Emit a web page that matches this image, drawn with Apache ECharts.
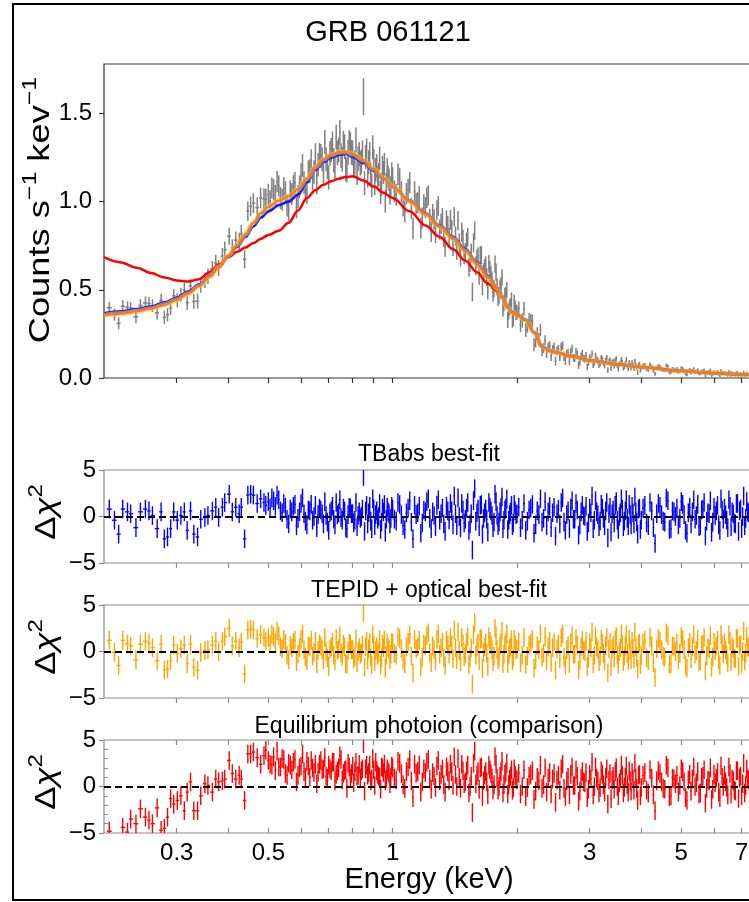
<!DOCTYPE html>
<html>
<head>
<meta charset="utf-8">
<script src="https://cdn.jsdelivr.net/npm/echarts@6/dist/echarts.min.js"></script>
<style>
html, body { margin: 0; padding: 0; background: #fff; }
#chart { width: 749px; height: 902px; }
</style>
</head>
<body>
<div id="chart"></div>
<script>
// spectral bins (keV); second block = the bins in between
var energy = [
  0.206,0.212,0.217,0.222,0.228,0.232,0.239,0.245,0.252,0.257,0.262,0.269,0.275,0.280,0.285,0.290,0.295,0.301,0.307,0.313,0.318,0.324,0.330,0.337,0.343,0.351,0.357,0.366,0.373,0.379,0.387,0.392,0.402,0.409,0.417,0.425,0.430,0.438,0.446,0.453,0.460,0.470,0.479,0.488,0.493,
  0.50,0.51,0.52,0.53,0.54,0.55,0.56,0.57,0.58,0.59,0.60,0.61,0.62,0.63,0.64,0.65,0.66,0.67,0.68,0.69,0.70,0.71,0.72,0.73,0.74,0.75,0.76,0.77,0.78,0.79,0.80,0.81,0.82,0.83,0.84,0.85,0.86,0.87,0.88,0.89,0.90,0.91,0.92,0.93,0.94,0.95,0.96,0.97,0.98,0.99,
  1.00,1.02,1.04,1.06,1.08,1.10,1.12,1.14,1.16,1.18,1.20,1.22,1.24,1.26,1.28,1.30,1.32,1.34,1.36,1.38,1.40,1.42,1.44,1.46,1.48,1.50,1.52,1.54,1.56,1.58,1.60,1.62,1.64,1.66,1.68,1.70,1.72,1.74,1.76,1.78,1.80,1.82,1.84,1.86,1.88,1.90,1.92,1.94,1.96,1.98,
  2.00,2.04,2.08,2.12,2.16,2.20,2.24,2.28,2.32,2.36,2.40,2.44,2.48,2.52,2.56,2.60,2.64,2.68,2.72,2.76,2.80,2.84,2.88,2.92,2.96,3.00,3.04,3.08,3.12,3.16,3.20,3.24,3.28,3.32,3.36,3.40,3.44,3.48,3.52,3.56,3.60,3.64,3.68,3.72,3.76,3.80,3.84,3.88,3.92,3.96,
  4.00,4.08,4.16,4.24,4.32,4.40,4.48,4.56,4.64,4.72,4.80,4.88,4.96,5.04,5.12,5.20,5.28,5.36,5.44,5.52,5.60,5.68,5.76,5.84,5.92,6.00,6.08,6.16,6.24,6.32,6.40,6.48,6.56,6.64,6.72,6.80,6.88,6.96,7.04,7.12,7.20,7.28,7.36,7.44,7.52,
  0.505,0.515,0.525,0.535,0.545,0.555,0.565,0.575,0.585,0.595,0.605,0.615,0.625,0.635,0.645,0.655,0.665,0.675,0.685,0.695,0.705,0.715,0.725,0.735,0.745,0.755,0.765,0.775,0.785,0.795,0.805,0.815,0.825,0.835,0.845,0.855,0.865,0.875,0.885,0.895,0.905,0.915,0.925,0.935,0.945,0.955,0.965,0.975,0.985,0.995,
  1.01,1.03,1.05,1.07,1.09,1.11,1.13,1.15,1.17,1.19,1.21,1.23,1.25,1.27,1.29,1.31,1.33,1.35,1.37,1.39,1.41,1.43,1.45,1.47,1.49,1.51,1.53,1.55,1.57,1.59,1.61,1.63,1.65,1.67,1.69,1.71,1.73,1.75,1.77,1.79,1.81,1.83,1.85,1.87,1.89,1.91,1.93,1.95,1.97,1.99,
  2.02,2.06,2.10,2.14,2.18,2.22,2.26,2.30,2.34,2.38,2.42,2.46,2.50,2.54,2.58,2.62,2.66,2.70,2.74,2.78,2.82,2.86,2.90,2.94,2.98,3.02,3.06,3.10,3.14,3.18,3.22,3.26,3.30,3.34,3.38,3.42,3.46,3.50,3.54,3.58,3.62,3.66,3.70,3.74,3.78,3.82,3.86,3.90,3.94,3.98,
  4.04,4.12,4.20,4.28,4.36,4.44,4.52,4.60,4.68,4.76,4.84,4.92,5.00,5.08,5.16,5.24,5.32,5.40,5.48,5.56,5.64,5.72,5.80,5.88,5.96,6.04,6.12,6.20,6.28,6.36,6.44,6.52,6.60,6.68,6.76,6.84,6.92,7.00,7.08,7.16,7.24,7.32,7.40,7.48
];
var counts = [
  0.398,0.359,0.310,0.407,0.400,0.396,0.347,0.411,0.426,0.422,0.410,0.369,0.440,0.344,0.358,0.396,0.466,0.441,0.471,0.498,0.427,0.522,0.434,0.436,0.526,0.554,0.577,0.619,0.653,0.624,0.691,0.726,0.804,0.738,0.782,0.773,0.818,0.673,0.945,0.973,0.991,0.966,1.020,1.015,1.012,
  1.041,1.077,1.034,1.088,1.011,1.053,0.952,1.043,1.105,1.028,1.154,1.107,1.051,1.172,1.131,1.264,1.209,1.259,1.169,1.240,1.137,1.292,1.234,1.365,1.293,1.260,1.331,1.186,1.279,1.323,1.276,1.220,1.164,1.269,1.227,1.595,1.253,1.146,1.270,1.093,1.231,1.180,1.136,1.246,1.097,1.165,1.002,1.182,1.124,1.080,
  1.133,1.039,1.131,0.977,1.045,1.107,0.847,0.989,1.029,0.907,0.965,1.035,0.829,0.899,0.951,0.841,0.906,0.743,0.862,0.897,0.746,0.804,0.892,0.686,0.786,0.712,0.798,0.656,0.487,0.835,0.677,0.580,0.697,0.599,0.639,0.495,0.615,0.555,0.505,0.600,0.455,0.510,0.570,0.424,0.467,0.330,0.400,0.440,0.337,0.396,
  0.372,0.300,0.392,0.296,0.324,0.188,0.252,0.272,0.170,0.140,0.183,0.161,0.095,0.163,0.177,0.120,0.136,0.095,0.166,0.113,0.135,0.091,0.140,0.107,0.063,0.116,0.138,0.089,0.103,0.073,0.114,0.085,0.099,0.045,0.102,0.087,0.068,0.108,0.052,0.083,0.089,0.064,0.104,0.053,0.073,0.088,0.053,0.074,0.030,0.079,
  0.058,0.073,0.047,0.064,0.024,0.068,0.053,0.044,0.065,0.033,0.049,0.052,0.039,0.052,0.025,0.041,0.029,0.052,0.036,0.024,0.039,0.045,0.027,0.033,0.015,0.036,0.032,0.020,0.041,0.023,0.027,0.015,0.032,0.027,0.017,0.032,0.010,0.026,0.020,0.012,0.030,0.021,0.014,0.025,0.016,
  1.005,1.066,1.114,1.020,1.077,0.978,1.057,1.089,0.969,1.084,1.205,1.066,1.168,1.231,1.168,1.108,1.264,1.238,1.338,1.197,1.274,1.328,1.195,1.277,1.392,1.240,1.311,1.178,1.334,1.279,1.203,1.350,1.244,1.216,1.278,1.106,1.289,1.224,1.154,1.308,1.104,1.202,1.153,1.052,1.194,1.211,1.098,1.140,1.048,1.159,
  1.058,1.154,1.057,0.944,1.068,0.962,1.056,0.994,0.850,0.983,1.022,0.902,0.929,0.822,0.975,0.875,0.799,0.894,0.797,0.840,0.914,0.724,0.765,0.827,0.699,0.771,0.627,0.708,0.767,0.636,0.689,0.694,0.520,0.622,0.572,0.647,0.587,0.482,0.645,0.517,0.466,0.523,0.394,0.466,0.498,0.377,0.408,0.330,0.428,0.372,
  0.394,0.326,0.272,0.329,0.323,0.211,0.219,0.159,0.215,0.174,0.122,0.175,0.153,0.121,0.185,0.097,0.143,0.146,0.115,0.149,0.073,0.122,0.110,0.127,0.088,0.107,0.074,0.126,0.098,0.084,0.105,0.072,0.113,0.090,0.056,0.093,0.099,0.072,0.077,0.104,0.058,0.082,0.068,0.088,0.056,0.073,0.095,0.057,0.074,0.044,
  0.072,0.051,0.076,0.042,0.057,0.064,0.045,0.071,0.032,0.052,0.044,0.033,0.056,0.041,0.020,0.047,0.041,0.032,0.046,0.024,0.040,0.013,0.034,0.045,0.023,0.028,0.037,0.014,0.031,0.032,0.021,0.038,0.015,0.025,0.016,0.031,0.025,0.011,0.035,0.018,0.022,0.007,0.024,0.014
];
var countsErr = [
  .033,.034,.034,.035,.035,.035,.036,.036,.036,.037,.037,.037,.038,.038,.038,.039,.039,.040,.040,.041,.041,.042,.042,.043,.043,.044,.044,.045,.045,.046,.046,.047,.048,.048,.049,.050,.050,.051,.055,.056,.057,.058,.059,.060,.060,
  .060,.060,.061,.061,.062,.062,.062,.063,.063,.064,.064,.065,.065,.066,.066,.067,.067,.068,.068,.068,.069,.069,.069,.070,.070,.070,.070,.070,.070,.070,.070,.070,.070,.069,.069,.105,.069,.068,.068,.068,.067,.067,.066,.066,.066,.065,.065,.064,.064,.063,
  .062,.062,.061,.061,.061,.060,.060,.060,.059,.059,.059,.058,.058,.058,.057,.057,.057,.056,.056,.056,.055,.055,.055,.054,.054,.054,.053,.053,.053,.052,.052,.052,.051,.051,.051,.050,.050,.050,.049,.049,.048,.048,.047,.047,.046,.046,.045,.045,.045,.044,
  .040,.040,.039,.039,.038,.037,.036,.035,.028,.027,.026,.026,.025,.025,.024,.024,.023,.023,.022,.022,.021,.021,.020,.020,.019,.019,.018,.018,.018,.017,.017,.017,.017,.016,.016,.016,.016,.015,.015,.015,.015,.015,.014,.014,.014,.014,.014,.013,.013,.013,
  .012,.012,.012,.012,.011,.011,.011,.011,.011,.011,.010,.010,.010,.010,.010,.010,.010,.009,.009,.009,.009,.009,.009,.009,.009,.008,.008,.008,.008,.008,.008,.008,.008,.008,.007,.007,.007,.007,.007,.007,.007,.007,.007,.007,.007,
  .060,.061,.061,.062,.062,.062,.063,.063,.064,.064,.065,.065,.066,.066,.067,.067,.068,.068,.068,.069,.069,.069,.070,.070,.070,.070,.070,.070,.070,.070,.070,.070,.070,.069,.069,.069,.069,.068,.068,.068,.067,.067,.066,.066,.066,.065,.065,.064,.064,.063,
  .062,.062,.061,.061,.061,.060,.060,.060,.059,.059,.059,.058,.058,.058,.057,.057,.057,.056,.056,.056,.055,.055,.055,.054,.054,.054,.053,.053,.053,.052,.052,.052,.051,.051,.051,.050,.050,.050,.049,.049,.048,.048,.047,.047,.046,.046,.045,.045,.045,.044,
  .040,.040,.039,.039,.038,.037,.036,.035,.028,.027,.026,.026,.025,.025,.024,.024,.023,.023,.022,.022,.021,.021,.020,.020,.019,.019,.018,.018,.018,.017,.017,.017,.017,.016,.016,.016,.016,.015,.015,.015,.015,.015,.014,.014,.014,.014,.014,.013,.013,.013,
  .012,.012,.012,.012,.011,.011,.011,.011,.011,.011,.010,.010,.010,.010,.010,.010,.010,.009,.009,.009,.009,.009,.009,.009,.009,.008,.008,.008,.008,.008,.008,.008,.008,.008,.007,.007,.007,.007,.007,.007,.007,.007,.007,.007
];
// delta chi residuals, one array per fit (same bin order as energy)
var resTbabs = [
  0.8,-0.4,-1.9,0.8,0.5,0.3,-1.2,0.5,0.8,0.6,0.1,-1.3,0.5,-2.4,-2.2,-1.3,0.5,-0.4,0.1,0.5,-1.5,0.6,-1.9,-2.2,-0.3,-0.1,0.1,0.6,1.0,-0.1,1.0,1.5,2.4,0.5,1.0,0.3,1.0,-2.4,2.3,2.4,2.3,1.4,1.9,1.5,1.2,
  1.6,2.0,1.1,1.8,0.4,1.0,-0.8,0.5,1.3,-0.2,1.4,0.3,-0.9,0.6,-0.4,1.2,0.2,0.7,-0.8,0.1,-1.5,0.6,-0.3,1.5,0.4,-0.1,0.9,-1.2,0.2,0.9,0.3,-0.4,-1.1,0.5,0.0,4.3,0.6,-0.8,1.1,-1.3,0.8,0.2,-0.3,1.4,-0.6,0.5,-1.7,1.0,0.3,-0.2,
  0.8,-0.5,1.3,-1.0,0.4,1.7,-2.4,0.2,1.1,-0.7,0.5,1.9,-1.3,0.1,1.2,-0.4,0.9,-1.6,0.6,1.4,-0.9,0.3,2.0,-1.2,0.7,-0.3,1.5,-0.8,-3.6,3.0,0.4,-1.1,1.3,-0.2,0.8,-1.7,1.0,0.1,-0.6,1.6,-1.0,0.5,2.1,-0.4,0.9,-1.4,0.2,1.2,-0.7,0.6,
  0.3,-1.2,1.4,-0.5,0.9,-1.8,0.6,1.9,-0.2,-1.0,1.1,0.4,-2.1,0.8,1.5,-0.6,0.2,-1.3,1.7,-0.3,0.7,-0.9,1.2,0.0,-1.6,0.9,2.2,-0.4,0.5,-1.1,1.3,-0.2,0.6,-2.3,1.0,0.3,-0.7,1.6,-1.4,0.4,0.8,-0.5,1.8,-1.0,0.2,1.1,-0.8,0.5,-1.9,0.9,
  -0.4,1.2,-1.0,0.6,-2.9,1.4,0.2,-0.6,1.7,-1.3,0.5,0.9,-0.2,1.3,-1.5,0.4,-0.8,1.8,0.1,-1.1,0.7,1.5,-0.5,0.3,-1.7,1.0,0.6,-0.9,1.9,-0.3,0.2,-1.2,1.1,0.5,-0.7,1.4,-1.6,0.8,0.0,-1.0,1.6,0.4,-0.6,1.2,-0.2,
  0.9,1.7,2.3,0.6,1.4,-0.3,0.8,1.1,-1.0,0.5,2.0,-0.5,0.7,1.3,0.0,-1.2,0.9,0.3,1.6,-0.6,0.4,1.1,-0.9,0.2,1.8,-0.4,0.6,-1.3,1.0,0.3,-0.7,1.5,0.1,-0.2,0.8,-1.6,1.2,0.4,-0.5,1.9,-1.0,0.6,0.0,-1.4,0.9,1.3,-0.3,0.5,-0.8,1.1,
  -0.3,1.5,0.2,-1.4,0.9,-0.6,1.2,0.4,-1.8,0.7,1.6,-0.2,0.5,-1.1,1.8,0.3,-0.8,1.1,-0.4,0.6,2.2,-1.0,0.0,1.4,-0.7,0.9,-1.5,0.3,1.7,-0.5,0.8,1.2,-1.9,0.4,-0.3,1.5,0.6,-1.2,2.4,0.1,-0.6,1.0,-1.3,0.7,1.9,-0.4,0.5,-1.0,1.3,0.2,
  1.0,-0.4,-1.5,0.7,1.3,-0.9,0.2,-0.6,1.6,0.5,-1.2,1.0,0.3,-0.8,2.0,-1.5,0.6,0.9,-0.3,1.4,-2.0,0.5,0.1,1.1,-0.7,0.4,-1.3,1.7,0.2,-0.5,0.9,-1.0,1.5,0.3,-1.7,0.7,1.2,-0.4,0.0,1.9,-1.1,0.6,-0.2,1.3,-0.9,0.4,2.1,-0.6,0.8,-1.4,
  0.9,-0.7,1.5,-1.2,0.3,1.1,-0.5,2.0,-1.4,0.6,0.0,-0.9,1.6,0.2,-1.8,1.0,0.5,-0.3,1.3,-1.0,0.8,-2.1,0.4,1.7,-0.6,0.1,1.2,-1.5,0.7,0.9,-0.4,1.8,-1.1,0.3,-0.8,1.4,0.6,-1.3,2.2,-0.2,0.5,-1.6,1.0,-0.5
];
var resTepid = [
  1.2,-0.1,-1.5,1.2,0.8,0.6,-0.9,0.8,1.1,0.9,0.4,-1.0,0.8,-2.0,-1.9,-1.0,0.7,-0.2,0.3,0.7,-1.3,0.8,-1.7,-2.0,-0.1,0.1,0.2,0.7,1.1,0.0,1.1,1.6,2.5,0.6,1.1,0.4,1.0,-2.4,2.3,2.4,2.3,1.4,1.8,1.5,1.1,
  1.5,1.9,1.0,1.7,0.3,0.9,-0.9,0.4,1.2,-0.3,1.3,0.2,-1.0,0.5,-0.5,1.1,0.1,0.6,-0.9,0.0,-1.6,0.5,-0.4,1.4,0.3,-0.2,0.8,-1.3,0.1,0.8,0.2,-0.5,-1.2,0.4,-0.1,4.2,0.5,-0.9,1.0,-1.4,0.7,0.1,-0.4,1.3,-0.7,0.4,-1.8,0.9,0.2,-0.3,
  0.9,-0.4,1.4,-0.9,0.5,1.8,-2.3,0.3,1.2,-0.6,0.6,2.0,-1.2,0.2,1.3,-0.3,1.0,-1.5,0.7,1.5,-0.8,0.4,2.1,-1.1,0.8,-0.2,1.6,-0.7,-3.5,3.1,0.5,-1.0,1.4,-0.1,0.9,-1.6,1.1,0.2,-0.5,1.7,-0.9,0.6,2.2,-0.3,1.0,-1.3,0.3,1.3,-0.6,0.7,
  0.3,-1.2,1.5,-0.5,0.9,-1.8,0.6,1.9,-0.2,-1.0,1.1,0.4,-2.0,0.8,1.5,-0.6,0.2,-1.3,1.7,-0.3,0.7,-0.9,1.2,0.0,-1.6,0.9,2.1,-0.4,0.5,-1.1,1.3,-0.2,0.6,-2.3,1.0,0.3,-0.7,1.6,-1.4,0.4,0.8,-0.5,1.8,-1.0,0.2,1.1,-0.8,0.5,-1.9,0.9,
  -0.4,1.2,-1.0,0.6,-2.8,1.4,0.2,-0.6,1.7,-1.3,0.5,0.9,-0.2,1.3,-1.5,0.4,-0.8,1.8,0.1,-1.1,0.7,1.5,-0.5,0.3,-1.7,1.0,0.6,-0.9,1.8,-0.3,0.2,-1.2,1.1,0.5,-0.7,1.4,-1.6,0.8,0.0,-1.0,1.6,0.4,-0.6,1.2,-0.2,
  0.8,1.6,2.2,0.5,1.3,-0.4,0.7,1.0,-1.1,0.4,1.9,-0.6,0.6,1.2,-0.1,-1.3,0.8,0.2,1.5,-0.7,0.3,1.0,-1.0,0.1,1.7,-0.5,0.5,-1.4,0.9,0.2,-0.8,1.4,0.0,-0.3,0.7,-1.7,1.1,0.3,-0.6,1.8,-1.1,0.5,-0.1,-1.5,0.8,1.2,-0.4,0.4,-0.9,1.0,
  -0.2,1.6,0.3,-1.3,1.0,-0.5,1.3,0.5,-1.7,0.8,1.7,-0.1,0.6,-1.0,1.9,0.4,-0.7,1.2,-0.3,0.7,2.3,-0.9,0.1,1.5,-0.6,1.0,-1.4,0.4,1.8,-0.4,0.9,1.3,-1.8,0.5,-0.2,1.6,0.7,-1.1,2.5,0.2,-0.6,1.0,-1.3,0.7,1.9,-0.4,0.5,-1.0,1.3,0.2,
  1.0,-0.4,-1.4,0.7,1.3,-0.9,0.2,-0.6,1.6,0.5,-1.2,1.0,0.3,-0.8,1.9,-1.5,0.6,0.9,-0.3,1.4,-2.0,0.5,0.1,1.1,-0.7,0.4,-1.3,1.7,0.2,-0.5,0.9,-1.0,1.5,0.3,-1.6,0.7,1.2,-0.4,0.0,1.9,-1.1,0.6,-0.2,1.3,-0.9,0.4,2.1,-0.6,0.8,-1.4,
  0.9,-0.7,1.5,-1.2,0.3,1.1,-0.5,2.0,-1.4,0.6,0.0,-0.9,1.6,0.2,-1.8,1.0,0.5,-0.3,1.3,-1.0,0.8,-2.1,0.4,1.7,-0.6,0.1,1.2,-1.5,0.7,0.9,-0.4,1.8,-1.1,0.3,-0.8,1.4,0.6,-1.3,2.2,-0.2,0.5,-1.6,1.0,-0.5
];
var resEquil = [
  -4.8,-6.4,-6.1,-4.4,-4.9,-3.5,-4.0,-2.4,-3.3,-3.6,-4.0,-2.3,-4.7,-4.5,-3.3,-1.3,-1.9,-1.5,-1.0,-2.6,-0.6,0.5,-2.6,-2.6,-1.0,0.3,0.1,-0.6,0.8,0.5,0.6,0.8,2.8,1.4,0.8,1.2,0.8,-1.5,3.5,3.5,3.7,3.1,2.4,3.3,3.9,
  2.8,2.3,1.7,2.1,3.0,1.4,2.5,1.8,2.9,1.2,2.2,1.6,2.7,1.0,2.0,2.4,1.5,2.8,1.9,1.1,2.3,1.7,2.6,1.3,2.0,2.9,1.4,1.8,2.5,0.9,2.2,1.6,1.1,2.4,1.7,4.6,1.9,1.2,2.3,0.8,1.8,2.6,1.3,1.0,2.1,1.5,0.6,1.9,1.4,1.0,
  2.0,0.7,2.5,0.2,1.6,2.9,-1.2,1.4,2.3,0.5,1.5,2.9,-0.3,1.1,2.2,0.6,1.9,-0.6,1.6,2.4,0.1,1.3,3.0,-0.2,1.7,0.5,2.3,0.0,-2.8,3.8,1.2,-0.3,2.1,0.6,1.6,-0.9,1.8,0.9,0.2,2.4,-0.4,1.1,2.7,0.2,1.5,-0.8,0.8,1.8,-0.1,1.2,
  0.7,-0.8,1.8,-0.1,1.3,-1.4,1.0,2.3,0.2,-0.6,1.5,0.8,-1.7,1.2,1.9,-0.2,0.6,-0.9,2.1,0.1,1.1,-0.5,1.6,0.4,-1.2,1.3,2.6,0.0,0.9,-0.7,1.7,0.2,1.0,-1.9,1.4,0.7,-0.3,2.0,-1.0,0.8,1.2,-0.1,2.2,-0.6,0.6,1.5,-0.4,0.9,-1.5,1.3,
  -0.1,1.5,-0.7,0.9,-2.6,1.7,0.5,-0.3,2.0,-1.0,0.8,1.2,0.1,1.6,-1.2,0.7,-0.5,2.1,0.4,-0.8,1.0,1.8,-0.2,0.6,-1.4,1.3,0.9,-0.6,2.2,0.0,0.5,-0.9,1.4,0.8,-0.4,1.7,-1.3,1.1,0.3,-0.7,1.9,0.7,-0.3,1.5,0.1,
  2.4,3.2,3.8,2.1,2.9,1.2,2.3,2.6,0.5,2.0,3.5,1.0,2.2,2.8,1.5,0.3,2.4,1.8,3.1,0.9,1.9,2.6,0.6,1.7,3.3,0.7,1.7,-0.2,2.1,1.4,0.4,2.6,1.2,0.9,1.9,-0.5,2.3,1.5,0.6,3.0,0.1,1.7,1.1,-0.3,2.0,2.4,0.8,1.6,0.3,2.2,
  0.9,2.7,1.4,-0.2,2.1,0.6,2.4,1.6,-0.6,1.9,2.6,0.8,1.5,-0.1,2.8,1.3,0.2,2.1,0.6,1.6,3.2,0.0,1.0,2.4,0.3,1.7,-0.7,1.1,2.5,0.3,1.6,2.0,-1.1,1.2,0.5,2.3,1.4,-0.4,3.2,0.9,0.0,1.6,-0.7,1.3,2.5,0.2,1.1,-0.4,1.9,0.8,
  1.4,0.0,-1.1,1.1,1.7,-0.5,0.6,-0.2,2.0,0.9,-0.8,1.4,0.7,-0.4,2.4,-1.1,1.0,1.3,0.1,1.8,-1.6,0.9,0.5,1.5,-0.3,0.8,-0.9,2.1,0.6,-0.1,1.3,-0.6,1.9,0.7,-1.3,1.1,1.6,0.0,0.4,2.3,-0.7,1.0,0.2,1.7,-0.5,0.8,2.5,-0.2,1.2,-1.0,
  1.2,-0.4,1.8,-0.9,0.6,1.4,-0.2,2.3,-1.1,0.9,0.3,-0.6,1.9,0.5,-1.5,1.3,0.8,0.0,1.6,-0.7,1.1,-1.8,0.7,2.0,-0.3,0.4,1.5,-1.2,1.0,1.2,-0.1,2.1,-0.8,0.6,-0.5,1.7,0.9,-1.0,2.5,0.1,0.8,-1.3,1.3,-0.2
];

// model curves
var modelEnergy = [0.2,0.22,0.24,0.26,0.28,0.30,0.32,0.34,0.36,0.38,0.40,0.42,0.44,0.46,0.48,0.50,0.53,0.56,0.59,0.62,0.65,0.68,0.71,0.74,0.77,0.80,0.85,0.90,0.95,1.0,1.1,1.2,1.3,1.4,1.5,1.6,1.7,1.8,1.85,1.9,1.95,2.0,2.1,2.2,2.3,2.4,2.5,2.7,3.0,3.5,4.0,5.0,6.0,7.0,7.5];
var modelTbabs = [0.367,0.378,0.39,0.405,0.428,0.455,0.49,0.53,0.58,0.63,0.69,0.745,0.80,0.86,0.91,0.945,0.98,1.0,1.04,1.11,1.18,1.225,1.25,1.265,1.27,1.255,1.22,1.175,1.13,1.085,1.005,0.935,0.865,0.80,0.73,0.655,0.58,0.505,0.455,0.40,0.375,0.36,0.33,0.26,0.18,0.155,0.145,0.125,0.10,0.078,0.062,0.04,0.028,0.02,0.017];
var modelTepid = [0.355,0.365,0.378,0.393,0.415,0.443,0.478,0.52,0.573,0.63,0.695,0.755,0.815,0.88,0.935,0.97,1.005,1.03,1.07,1.13,1.195,1.24,1.265,1.28,1.282,1.27,1.235,1.185,1.135,1.085,1.0,0.928,0.857,0.79,0.72,0.645,0.57,0.5,0.45,0.398,0.373,0.358,0.328,0.258,0.178,0.154,0.144,0.124,0.10,0.078,0.062,0.04,0.028,0.02,0.017];
var modelEquil = [0.685,0.655,0.625,0.595,0.57,0.553,0.547,0.56,0.60,0.645,0.685,0.715,0.74,0.765,0.79,0.81,0.835,0.88,0.95,1.02,1.065,1.095,1.115,1.13,1.14,1.143,1.12,1.085,1.05,1.02,0.945,0.865,0.80,0.73,0.665,0.60,0.535,0.49,0.448,0.397,0.372,0.357,0.327,0.257,0.177,0.153,0.143,0.123,0.099,0.077,0.061,0.039,0.027,0.019,0.016];

// ticks
var tickEnergies = [0.3,0.4,0.5,0.6,0.7,0.8,0.9,1,2,3,4,5,6,7];
var labelEnergies = [0.3,0.5,1,3,5,7];
var countTicks = [0, 0.5, 1, 1.5];
var resTicks = [-5, 0, 5];
var resMinorTicks = [-4, -3, -2, -1, 1, 2, 3, 4];

var lg = Math.log10;
var xMin = lg(0.2), xMax = lg(7.5);
var font = 'Liberation Sans';
var tickPos = tickEnergies.map(lg);
var labelPos = labelEnergies.map(lg);

// sort the bins by energy, bin edges half way (in log) between neighbours
var order = energy.map(function (e, i) { return i; }).sort(function (a, b) { return energy[a] - energy[b]; });
var logE = order.map(function (i) { return lg(energy[i]); });
function binLo(k) { return k > 0 ? (logE[k - 1] + logE[k]) / 2 : logE[0] - (logE[1] - logE[0]) / 2; }
function binHi(k) { var n = logE.length; return k < n - 1 ? (logE[k] + logE[k + 1]) / 2 : logE[n - 1] + (logE[n - 1] - logE[n - 2]) / 2; }

function barData(vals, errs) {
    var out = [];
    order.forEach(function (i, k) {
        if (vals[i] == null) return;
        out.push([logE[k], vals[i], errs ? errs[i] : 1, binLo(k), binHi(k)]);
    });
    return out;
}

function barRender(color, width) {
    return function (params, api) {
        var x = api.value(0), y = api.value(1), e = api.value(2);
        var a = api.coord([x, y - e]), b = api.coord([x, y + e]);
        var l = api.coord([api.value(3), y]), r = api.coord([api.value(4), y]);
        var st = { stroke: color, lineWidth: width };
        return {
            type: 'group',
            children: [
                { type: 'line', shape: { x1: a[0], y1: a[1], x2: b[0], y2: b[1] }, style: st },
                { type: 'line', shape: { x1: l[0], y1: l[1], x2: r[0], y2: r[1] }, style: st }
            ]
        };
    };
}

function modelLine(vals, color, width, z) {
    return {
        type: 'line', xAxisIndex: 0, yAxisIndex: 0,
        data: modelEnergy.map(function (e, i) { return [lg(e), vals[i]]; }),
        smooth: 0.35, smoothMonotone: 'x', showSymbol: false, symbol: 'none',
        lineStyle: { color: color, width: width }, z: z, silent: true
    };
}

function resSeries(idx, vals, color) {
    return {
        type: 'custom', xAxisIndex: idx, yAxisIndex: idx, clip: true,
        renderItem: barRender(color, 1.4),
        encode: { x: 0, y: 1 },
        data: barData(vals, null),
        z: 2,
        markLine: {
            silent: true, symbol: ['none', 'none'], animation: false,
            label: { show: false },
            lineStyle: { type: [7, 4], color: '#000', width: 2 },
            data: [{ yAxis: 0 }]
        }
    };
}

var grids = [
    { left: 104, top: 64, width: 650, height: 314, borderColor: '#333' },
    { left: 104, top: 470, width: 650, height: 93, borderColor: '#8a8a8a' },
    { left: 104, top: 605, width: 650, height: 93, borderColor: '#8a8a8a' },
    { left: 104, top: 740, width: 650, height: 93, borderColor: '#8a8a8a' }
].map(function (g) {
    g.show = true; g.borderWidth = 1.2; g.backgroundColor = 'transparent';
    g.containLabel = false; g.outerBoundsMode = 'none';
    return g;
});

function xAxisFor(i, position, inside, withLabels) {
    return {
        type: 'value', gridIndex: i, min: xMin, max: xMax, position: position,
        axisLine: { show: false, onZero: false }, splitLine: { show: false },
        axisTick: { show: true, customValues: tickPos, length: 5, inside: inside,
            lineStyle: { color: i === 0 ? '#333' : '#8a8a8a', width: 1.2 } },
        axisLabel: withLabels ? {
            show: true, customValues: labelPos, margin: 8,
            fontSize: 24, color: '#000', fontFamily: font,
            formatter: function (v) { return String(+Math.pow(10, v).toPrecision(2)); }
        } : { show: false },
        name: withLabels ? 'Energy (keV)' : '',
        nameLocation: 'middle', nameGap: 44,
        nameTextStyle: { fontSize: 29, color: '#000', fontFamily: font, verticalAlign: 'middle' }
    };
}

function resYAxis(i) {
    return {
        type: 'value', gridIndex: i, min: -5, max: 5, position: 'left',
        axisLine: { show: false, onZero: false }, splitLine: { show: false },
        axisTick: { show: true, customValues: resTicks, length: 5, lineStyle: { color: '#8a8a8a', width: 1.2 } },
        axisLabel: { show: true, customValues: resTicks, margin: 8, fontSize: 24, color: '#000', fontFamily: font,
            formatter: function (v) { return v < 0 ? '\u2212' + (-v) : String(v); } }
    };
}

var xAxes = [
    xAxisFor(0, 'bottom', false, false),
    xAxisFor(1, 'bottom', false, false),
    xAxisFor(2, 'bottom', false, false),
    xAxisFor(3, 'bottom', true, true),
    xAxisFor(3, 'top', true, false)
];

var yAxes = [
    {
        type: 'value', gridIndex: 0, min: 0, max: 1.78, position: 'left',
        axisLine: { show: false, onZero: false }, splitLine: { show: false },
        axisTick: { show: true, customValues: countTicks, length: 5, lineStyle: { color: '#333', width: 1.2 } },
        axisLabel: { show: true, customValues: countTicks, margin: 12, fontSize: 24, color: '#000', fontFamily: font,
            formatter: function (v) { return v.toFixed(1); } }
    },
    resYAxis(1),
    resYAxis(2),
    resYAxis(3),
    {
        type: 'value', gridIndex: 3, min: -5, max: 5, position: 'left',
        axisLine: { show: false, onZero: false }, splitLine: { show: false },
        axisTick: { show: true, customValues: resMinorTicks, length: 4, inside: true, lineStyle: { color: '#8a8a8a', width: 1 } },
        axisLabel: { show: false }
    }
];

// rotated axis titles with superscripts
var labelRich = {
    b: { fontSize: 29, fontFamily: font, fill: '#000', color: '#000', verticalAlign: 'bottom' },
    i: { fontSize: 29, fontFamily: font, fontStyle: 'italic', fill: '#000', color: '#000', verticalAlign: 'bottom' },
    s: { fontSize: 20, fontFamily: font, fill: '#000', color: '#000', verticalAlign: 'bottom', padding: [0, 0, 15, 0] }
};
function sideLabel(text, x, y, stretch) {
    return {
        type: 'text', x: x, y: y, rotation: Math.PI / 2, scaleX: stretch, silent: true,
        style: { text: text, rich: labelRich, fontSize: 29, fontFamily: font, fill: '#000',
            align: 'center', verticalAlign: 'middle', textAlign: 'center', textVerticalAlign: 'middle' }
    };
}
function centreText(text, x, y, size) {
    return {
        type: 'text', x: x, y: y, silent: true,
        style: { text: text, fontSize: size, fontFamily: font, fill: '#000',
            align: 'center', verticalAlign: 'middle', textAlign: 'center', textVerticalAlign: 'middle' }
    };
}

var myChart = echarts.init(document.getElementById('chart'), null, { renderer: 'canvas' });

myChart.setOption({
    animation: false,
    backgroundColor: '#fff',
    textStyle: { fontFamily: font },
    grid: grids,
    xAxis: xAxes,
    yAxis: yAxes,
    graphic: [
        { type: 'rect', shape: { x: 13, y: 4, width: 800, height: 896 },
          style: { fill: 'none', stroke: '#000', lineWidth: 2 }, silent: true },
        centreText('GRB 061121', 388, 33, 29),
        centreText('TBabs best-fit', 429, 455, 23),
        centreText('TEPID + optical best-fit', 429, 591, 23),
        centreText('Equilibrium photoion (comparison)', 429, 727, 23),
        sideLabel('{b|Counts s}{s|\u22121}{b| kev}{s|\u22121}', 38, 210, 1.25),
        sideLabel('{b|\u0394}{i|\u03c7}{s|2}', 44, 512, 1.2),
        sideLabel('{b|\u0394}{i|\u03c7}{s|2}', 44, 647, 1.2),
        sideLabel('{b|\u0394}{i|\u03c7}{s|2}', 44, 782, 1.2)
    ],
    series: [
        {
            type: 'custom', xAxisIndex: 0, yAxisIndex: 0, clip: true,
            renderItem: barRender('#808080', 1.5),
            encode: { x: 0, y: 1 },
            data: barData(counts, countsErr),
            z: 1
        },
        modelLine(modelEquil, '#ff0000', 2.5, 3),
        modelLine(modelTbabs, '#1a1aff', 2.8, 4),
        modelLine(modelTepid, 'rgba(250,185,70,0.6)', 5, 5),
        modelLine(modelTepid, '#f57f17', 2.2, 6),
        resSeries(1, resTbabs, '#0000ff'),
        resSeries(2, resTepid, '#ffa500'),
        resSeries(3, resEquil, '#ff0000')
    ]
});
</script>
</body>
</html>
